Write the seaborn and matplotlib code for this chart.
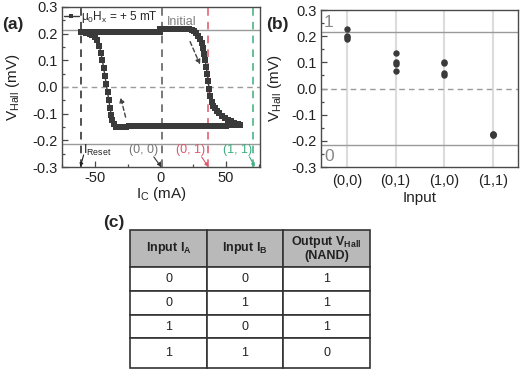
import matplotlib
matplotlib.use("Agg")
import matplotlib.pyplot as plt
import seaborn as sns
import pandas as pd
from matplotlib.ticker import MultipleLocator

# ---------------- data ----------------
# (a) current sweep: 0 -> +60 -> -60 -> 0  (mA, mV)
sweep_I = [0, 2, 4, 6, 8, 10, 12, 14, 16, 18, 20, 22,
           24, 26, 27.5, 29, 30.5, 31.5, 32.5, 33.5, 34.3, 35, 35.7, 36.5, 37.3, 38.2,
           39.2, 40.4, 41.8, 43.3, 45, 47, 49, 51.5, 54, 56.5, 59, 60.5,
           58, 56, 54, 52, 50, 48, 46, 44, 42, 40, 38, 36, 34, 32, 30, 28, 26, 24,
           22, 20, 18, 16, 14, 12, 10, 8, 6, 4, 2, 0, -2, -4, -6, -8, -10, -12,
           -14, -16, -18, -20, -22, -24, -26, -28, -30, -32, -34,
           -35.5, -36.5, -37.5, -38.3, -39.2, -40.2, -41.2, -42.2, -43.2, -44.2,
           -45.3, -46.5, -48, -49.8, -51.8, -54, -56.5, -59, -60.5,
           -58, -56, -54, -52, -50, -48, -46, -44, -42, -40, -38, -36, -34, -32,
           -30, -28, -26, -24, -22, -20, -18, -16, -14, -12, -10, -8, -6, -4, -2, 0]
sweep_V = [0.216, 0.216, 0.216, 0.216, 0.216, 0.216, 0.216, 0.216, 0.216, 0.216, 0.216, 0.216,
           0.215, 0.210, 0.203, 0.193, 0.180, 0.165, 0.148, 0.125, 0.100, 0.075, 0.050, 0.022, -0.008, -0.035,
           -0.055, -0.070, -0.080, -0.090, -0.099, -0.108, -0.115, -0.122, -0.128, -0.134, -0.139, -0.142,
           -0.143, -0.144, -0.144, -0.144, -0.145, -0.145, -0.145, -0.145, -0.145, -0.145, -0.145, -0.145, -0.145, -0.145, -0.146, -0.146, -0.146, -0.146,
           -0.146, -0.146, -0.146, -0.146, -0.147, -0.147, -0.147, -0.147, -0.147, -0.147, -0.147, -0.147, -0.147, -0.147, -0.148, -0.148, -0.148, -0.148,
           -0.148, -0.148, -0.148, -0.148, -0.148, -0.148, -0.149, -0.149, -0.149, -0.149, -0.149,
           -0.140, -0.125, -0.105, -0.080, -0.050, -0.020, 0.010, 0.040, 0.070, 0.100,
           0.128, 0.155, 0.175, 0.188, 0.195, 0.200, 0.204, 0.206, 0.207,
           0.206, 0.205, 0.205, 0.205, 0.205, 0.205, 0.205, 0.205, 0.205, 0.205, 0.205, 0.205, 0.205, 0.205,
           0.205, 0.205, 0.205, 0.205, 0.205, 0.205, 0.205, 0.205, 0.205, 0.205, 0.205, 0.205, 0.205, 0.205, 0.205, 0.205]

# (b) Hall voltage for each input combination
inputs = ["(0,0)", "(0,1)", "(1,0)", "(1,1)"]
vhall_00 = [0.226, 0.200, 0.195, 0.190]
vhall_01 = [0.137, 0.100, 0.094, 0.065]
vhall_10 = [0.101, 0.097, 0.060, 0.053]
vhall_11 = [-0.172, -0.175, -0.178, -0.176]

# (c) truth table
table_header = ["Input I$_\\mathbf{A}$", "Input I$_\\mathbf{B}$", "Output V$_\\mathbf{Hall}$\n(NAND)"]
input_A = ["0", "0", "1", "1"]
input_B = ["0", "1", "0", "1"]
output_nand = ["1", "1", "1", "0"]

# ---------------- style ----------------
sns.set_theme(style="ticks")
plt.rcParams["font.family"] = ["Liberation Sans", "DejaVu Sans"]
plt.rcParams["mathtext.fontset"] = "custom"
plt.rcParams["mathtext.rm"] = "Liberation Sans"
plt.rcParams["mathtext.bf"] = "Liberation Sans:bold"
plt.rcParams["mathtext.default"] = "regular"
plt.rcParams["axes.unicode_minus"] = False

DARK = "#3a3a3a"
SPINE = "#4a4a4a"
TICKFS = 10.5
LABFS = 11

fig = plt.figure(figsize=(5.2, 3.7), dpi=100)
W, H = 520, 370


def box(l, t, r, b):
    return [l / W, 1 - b / H, (r - l) / W, (b - t) / H]


def style_axes(ax):
    for s in ax.spines.values():
        s.set_color(SPINE)
        s.set_linewidth(1.0)
    ax.tick_params(which="both", direction="in", colors=SPINE, labelcolor="#222",
                   labelsize=TICKFS, width=0.9)
    ax.tick_params(which="major", length=4, pad=3)
    ax.tick_params(which="minor", length=2)


# ---------------- (a) ----------------
ax = fig.add_axes(box(62, 7, 260, 167))
ax.axhline(0.215, color="#9a9a9a", lw=1.0, zorder=1)
ax.axhline(-0.215, color="#9a9a9a", lw=1.0, zorder=1)
ax.axhline(0, color="#9a9a9a", lw=1.0, ls=(0, (4, 3)), zorder=1)
ax.axvline(-60.5, color="#222222", lw=1.1, ls=(0, (5, 4)), zorder=1)
ax.axvline(1.3, color="#555555", lw=1.1, ls=(0, (5, 4)), zorder=1)
ax.axvline(36, color="#e0556a", lw=1.1, ls=(0, (5, 4)), zorder=1)
ax.axvline(71, color="#3fae7e", lw=1.1, ls=(0, (5, 4)), zorder=1)

df_a = pd.DataFrame({"I": sweep_I, "V": sweep_V})
sns.lineplot(data=df_a, x="I", y="V", sort=False, estimator=None, ax=ax,
             color=DARK, lw=1.0, marker="s", markersize=4, markeredgewidth=0,
             label="μ$_0$H$_x$ = + 5 mT", zorder=3)
ax.set_xlim(-75, 76)
ax.set_ylim(-0.3, 0.3)
ax.xaxis.set_major_locator(MultipleLocator(50))
ax.xaxis.set_minor_locator(MultipleLocator(25))
ax.yaxis.set_major_locator(MultipleLocator(0.1))
ax.yaxis.set_minor_locator(MultipleLocator(0.05))
ax.yaxis.set_major_formatter(matplotlib.ticker.FormatStrFormatter("%.1f"))
style_axes(ax)
ax.set_xlabel("I$_C$ (mA)", fontsize=LABFS, color="#222")
ax.set_ylabel("V$_{Hall}$ (mV)", fontsize=LABFS, color="#222")
ax.xaxis.set_label_coords(0.5, -0.115)
ax.yaxis.set_label_coords(-0.2, 0.5)
leg = ax.legend(loc="upper left", bbox_to_anchor=(0.0, 1.0), frameon=False, fontsize=8.5,
                handlelength=1.3, handletextpad=0.2, borderaxespad=0.0, borderpad=0.15,
                markerscale=0.85)

ax.text(5, 0.222, "Initial", color="#808080", fontsize=9, ha="left", va="bottom")
labels_a = [("I$_{Reset}$", -59, "#222222", "left"),
            ("(0, 0)", -2, "#777777", "right"),
            ("(0, 1)", 34, "#e0556a", "right"),
            ("(1, 1)", 70, "#3fae7e", "right")]
for txt, xx, col, ha in labels_a:
    ax.text(xx, -0.237, txt, color=col, fontsize=9, ha=ha, va="center")
arrows_a = [((-58.5, -0.255), (-61, -0.299), "#222222"),
            ((-5, -0.262), (0.5, -0.299), "#333333"),
            ((31.5, -0.262), (36.5, -0.299), "#e0556a"),
            ((68, -0.262), (72, -0.299), "#3fae7e")]
for start, end, col in arrows_a:
    ax.annotate("", xy=end, xytext=start,
                arrowprops=dict(arrowstyle="-|>", color=col, lw=0.8, mutation_scale=5,
                                shrinkA=0, shrinkB=0))
for start, end in [((22.7, 0.17), (30.3, 0.084)), ((-26.5, -0.113), (-30.3, -0.039))]:
    ax.annotate("", xy=end, xytext=start,
                arrowprops=dict(arrowstyle="-|>", color="#444444", lw=1.0, ls=(0, (3, 2)),
                                mutation_scale=7, shrinkA=0, shrinkB=0))

# ---------------- (b) ----------------
bx = fig.add_axes(box(321, 10, 518, 167))
df_b = pd.DataFrame({"Input": [c for c, v in zip(inputs, [vhall_00, vhall_01, vhall_10, vhall_11]) for _ in v],
                     "V": vhall_00 + vhall_01 + vhall_10 + vhall_11})
for xpos in range(len(inputs)):
    bx.axvline(xpos, color="#dcdcdc", lw=1.5, zorder=0)
bx.axhline(0.215, color="#9a9a9a", lw=1.0, zorder=1)
bx.axhline(-0.215, color="#9a9a9a", lw=1.0, zorder=1)
bx.axhline(0, color="#9a9a9a", lw=1.0, ls=(0, (4, 3)), zorder=1)
sns.stripplot(data=df_b, x="Input", y="V", order=inputs, jitter=False, ax=bx,
              color=DARK, size=4.6, linewidth=0, zorder=3)
bx.set_xlim(-0.53, 3.51)
bx.set_ylim(-0.3, 0.3)
bx.yaxis.set_major_locator(MultipleLocator(0.1))
bx.yaxis.set_minor_locator(MultipleLocator(0.05))
bx.yaxis.set_major_formatter(matplotlib.ticker.FormatStrFormatter("%.1f"))
style_axes(bx)
bx.tick_params(axis="x", length=0, pad=5)
bx.set_xlabel("Input", fontsize=LABFS, color="#222")
bx.set_ylabel("V$_{Hall}$ (mV)", fontsize=LABFS, color="#222")
bx.xaxis.set_label_coords(0.5, -0.15)
bx.yaxis.set_label_coords(-0.19, 0.5)
bx.text(-0.47, 0.252, "1", color="#888888", fontsize=12.5, ha="left", va="center")
bx.text(-0.47, -0.26, "0", color="#888888", fontsize=12.5, ha="left", va="center")

# ---------------- (c) ----------------
tx = fig.add_axes(box(130, 230, 370, 368))
tx.axis("off")
rows = [[a, b, o] for a, b, o in zip(input_A, input_B, output_nand)]
tab = tx.table(cellText=rows, colLabels=table_header, cellLoc="center",
               bbox=[0, 0, 1, 1])
tab.auto_set_font_size(False)
heights = [37, 24, 24, 23, 30]
col_w = [77, 76, 87]
for (r, c), cell in tab.get_celld().items():
    cell.set_height(heights[r])
    cell.set_width(col_w[c])
    cell.set_edgecolor("#333333")
    cell.set_linewidth(1.2)
    cell.get_text().set_fontsize(9)
    cell.get_text().set_color("#222222")
    if r == 0:
        cell.set_facecolor("#b9b9b9")
        cell.get_text().set_fontweight("bold")
        cell.get_text().set_linespacing(1.0)

# panel labels
fig.text(2 / W, 1 - 25 / H, "(a)", fontsize=12.5, fontweight="bold", va="center", ha="left")
fig.text(266 / W, 1 - 25 / H, "(b)", fontsize=12.5, fontweight="bold", va="center", ha="left")
fig.text(103 / W, 1 - 222 / H, "(c)", fontsize=12.5, fontweight="bold", va="center", ha="left")

fig.savefig("out.png", dpi=100)
